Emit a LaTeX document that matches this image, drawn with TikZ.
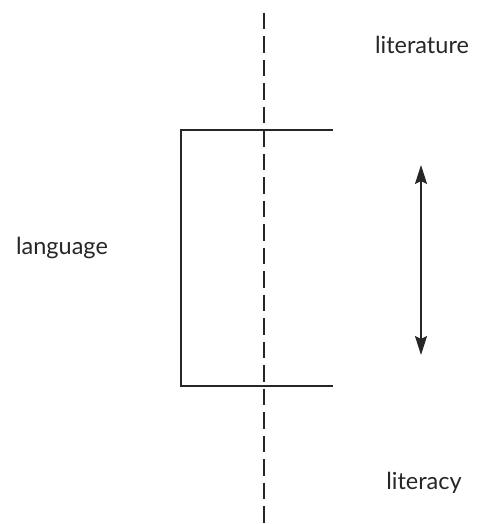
\documentclass[tikz,border=0pt]{standalone}
\usepackage{fontspec}
\setmainfont{Lato}
\usetikzlibrary{arrows.meta}
\begin{document}
\begin{tikzpicture}[x=1pt,y=-1pt,
  lbl/.style={font=\fontsize{23.5}{26}\selectfont, text=black!85, inner sep=0pt},
  ln/.style={line width=2pt, draw=black!85},
  dashline/.style={ln, dash pattern=on 16.5pt off 7pt},
  dbl/.style={ln, {Stealth[length=19pt,width=12pt,inset=3pt]}-{Stealth[length=19pt,width=12pt,inset=3pt]}}]
\useasboundingbox (0,0) rectangle (483,524);
\coordinate (dtop) at (264,12.7);
\coordinate (dbot) at (264,524);
\draw[dashline] (dtop) -- (dbot);
\coordinate (tr) at (333,130);
\coordinate (tl) at (181,130);
\coordinate (bl) at (181,386);
\coordinate (br) at (333,386);
\draw[ln] (tr) -- (tl) -- (bl) -- (br);
\coordinate (atop) at (421,165);
\coordinate (abot) at (421,355);
\draw[dbl] (atop) -- (abot);
\node[lbl] (lit) at (422,45) {literature};
\node[lbl] (lang) at (62,248) {language};
\node[lbl] (lcy) at (424,483) {literacy};
\end{tikzpicture}
\end{document}
